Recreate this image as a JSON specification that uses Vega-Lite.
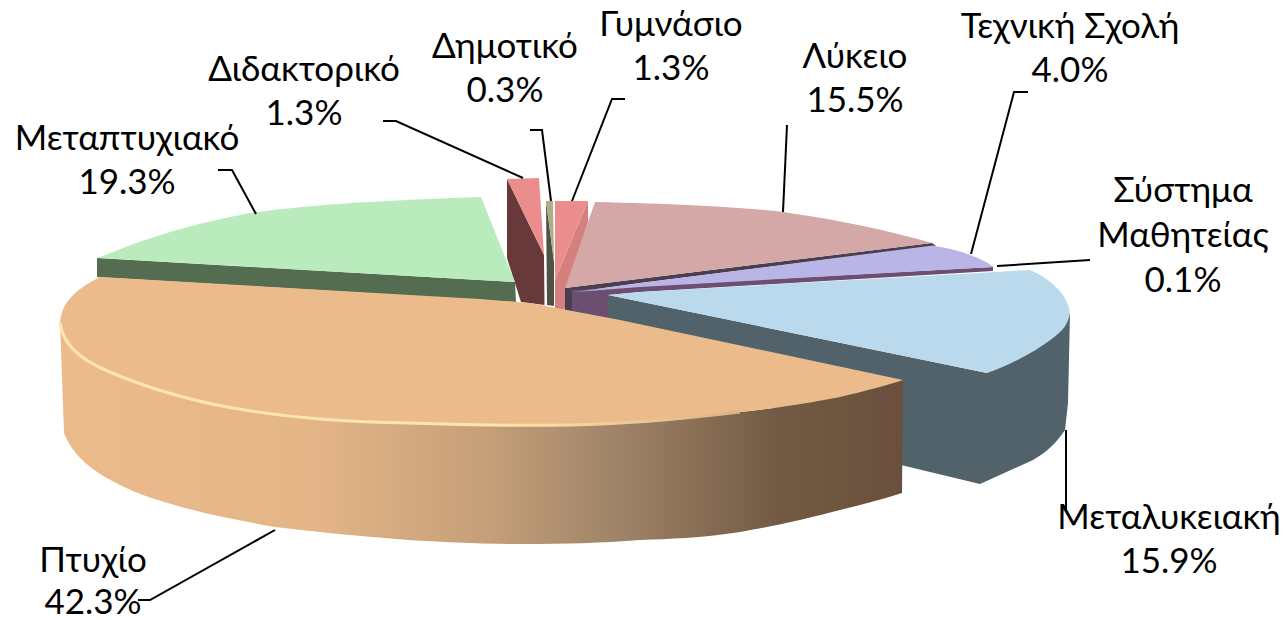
{
"$schema":"https://vega.github.io/schema/vega-lite/v6.json",
"width":1286,"height":620,"autosize":{"type":"fit","contains":"padding"},"padding":0,
"background":"white","view":{"stroke":null},
"data":{"values":[
{"part":"Δημοτικό","share":0.3,"label":"Δημοτικό\n0.3%"},
{"part":"Γυμνάσιο","share":1.3,"label":"Γυμνάσιο\n1.3%"},
{"part":"Λύκειο","share":15.5,"label":"Λύκειο\n15.5%"},
{"part":"Τεχνική Σχολή","share":4.0,"label":"Τεχνική Σχολή\n4.0%"},
{"part":"Σύστημα Μαθητείας","share":0.1,"label":"Σύστημα\nΜαθητείας\n0.1%"},
{"part":"Μεταλυκειακή","share":15.9,"label":"Μεταλυκειακή\n15.9%"},
{"part":"Πτυχίο","share":42.3,"label":"Πτυχίο\n42.3%"},
{"part":"Μεταπτυχιακό","share":19.3,"label":"Μεταπτυχιακό\n19.3%"},
{"part":"Διδακτορικό","share":1.3,"label":"Διδακτορικό\n1.3%"}
]},
"encoding":{
"x":{"datum":0,"type":"quantitative","scale":{"domain":[0,1]},"axis":null},
"y":{"datum":0,"type":"quantitative","scale":{"domain":[0,1],"reverse":true},"axis":null}
},
"resolve":{"scale":{"shape":"independent","color":"independent"}},
"layer":[
{"transform":[{"filter":"datum.part!=='Πτυχίο' && datum.part!=='Σύστημα Μαθητείας'"}],
"mark":{"type":"point","filled":true,"opacity":1,"size":4,"strokeWidth":0},
"encoding":{
"shape":{"field":"part","type":"nominal","legend":null,"sort":null,"scale":{
"domain":["Μεταλυκειακή","Τεχνική Σχολή","Λύκειο","Μεταπτυχιακό","Διδακτορικό","Δημοτικό","Γυμνάσιο"],
"range":[
"M608,295 L987,373 L1070,313 L1068,403 L1065,430 C1055,445 1045,453 1033,460 L980,484 L880,460 L608,325 Z",
"M572,290 L993,267 L993,271 L640,292 L608,295 L608,325 L572,316 Z",
"M565,288 L932,243 L936,246 L640,283 L575,292 L572,290 L572,316 L565,316 Z",
"M97,258 L515,282 L516,302 L97,277 Z",
"M507,179 L544,255 L544.5,305 L521,302 L507,258 Z",
"M546,201 L554,262 L554,306 L547,305 Z",
"M588,201 L588,222 L567,287 L565,316 L555,316 L555,280 Z"]}},
"color":{"field":"part","type":"nominal","legend":null,"scale":{
"domain":["Μεταλυκειακή","Τεχνική Σχολή","Λύκειο","Μεταπτυχιακό","Διδακτορικό","Δημοτικό","Γυμνάσιο"],
"range":["#51626B","#6B4E70","#4A3F50","#546C50","#68393B","#4F5442","#D67F7F"]}}
}},
{"transform":[{"filter":"datum.part!=='Πτυχίο' && datum.part!=='Σύστημα Μαθητείας'"}],
"mark":{"type":"point","filled":true,"opacity":1,"size":4,"strokeWidth":0},
"encoding":{
"shape":{"field":"part","type":"nominal","legend":null,"scale":{
"domain":["Μεταλυκειακή","Τεχνική Σχολή","Λύκειο","Μεταπτυχιακό","Διδακτορικό","Δημοτικό","Γυμνάσιο"],
"range":[
"M608,295 L640,292 L1030,270 C1050,279 1067,293 1070,313 C1068,325 1062,331 1053,338 C1035,352 1010,365 987,373 Z",
"M575,292 L640,283 L933,245.5 C945,248 958,250 970,255 C980,259 988,262 993,267 L640,287 Z",
"M565,288 L595,202 C680,204 740,207 783,212 C840,220 890,231 932,243 Z",
"M98,258 C140,240 190,224 250,213 C320,203 400,200 481,197 L515,282 Z",
"M507,179 L539,178 L544,255 Z",
"M546,201 L553,201 L554,262 Z",
"M555,201 L588,201 L555,280 Z"]}},
"color":{"field":"part","type":"nominal","legend":null,"scale":{
"domain":["Μεταλυκειακή","Τεχνική Σχολή","Λύκειο","Μεταπτυχιακό","Διδακτορικό","Δημοτικό","Γυμνάσιο"],
"range":["#BBD9EC","#B9B5E6","#D3A8A6","#BAEBBC","#EC8D8D","#B0AB88","#EC8D8D"]}}
}},
{"transform":[{"filter":"datum.part==='Πτυχίο'"}],
"mark":{"type":"point","filled":true,"opacity":1,"size":4,"strokeWidth":0,
"shape":"M60,322 C63,350 90,365 122,377 C160,392 200,403 245,410 C300,419 350,422 408,423 C470,425 520,426 571,425 C630,424 690,418 740,412 C780,408 820,401 840,397 C865,391 885,386 903,380 L902,493 C880,500 860,505 840,510 C810,518 770,527 740,532 C700,538 670,539 640,540 C600,543 565,544 526,544 C480,544 445,542 408,540 C360,536 315,532 275,527 C230,519 185,510 143,495 C105,480 75,462 64,433 Z",
"fill":{"gradient":"linear","x1":0,"y1":0,"x2":1,"y2":0,"stops":[{"offset":0,"color":"#EBBB8C"},{"offset":0.3,"color":"#E4B587"},{"offset":0.5,"color":"#C6A079"},{"offset":0.65,"color":"#A2866A"},{"offset":0.85,"color":"#735A44"},{"offset":1,"color":"#6A503C"}]}}},
{"transform":[{"filter":"datum.part==='Πτυχίο'"}],
"mark":{"type":"point","filled":true,"opacity":1,"size":4,"strokeWidth":0,"fill":"#EBBB8C",
"shape":"M100,277 C80,287 62,300 60,322 C63,350 90,365 122,377 C160,392 200,403 245,410 C300,419 350,422 408,423 C470,425 520,426 571,425 C630,424 690,418 740,412 C780,408 820,401 840,397 C865,391 885,386 903,380 L620,320 L530,303 L480,299 Z"}},
{"transform":[{"filter":"datum.part==='Πτυχίο'"}],
"mark":{"type":"point","filled":false,"opacity":1,"size":4,"strokeWidth":3,"fill":null,
"shape":"M60,322 C63,350 90,365 122,377 C160,392 200,403 245,410 C300,419 350,422 408,423 C470,425 520,426 571,425 C630,424 690,418 740,412",
"stroke":{"gradient":"linear","x1":0,"y1":0,"x2":1,"y2":0,"stops":[{"offset":0,"color":"#FDE6AE"},{"offset":0.65,"color":"#FDE6AE"},{"offset":1,"color":"#DDB284"}]}}},
{"mark":{"type":"point","filled":false,"opacity":1,"size":4,"strokeWidth":2,"stroke":"#000000"},
"encoding":{"shape":{"field":"part","type":"nominal","legend":null,"scale":{
"domain":["Δημοτικό","Γυμνάσιο","Λύκειο","Τεχνική Σχολή","Σύστημα Μαθητείας","Μεταλυκειακή","Πτυχίο","Μεταπτυχιακό","Διδακτορικό"],
"range":[
"M530,130 L542,130 L551,201",
"M625,99 L612,99 L572,201",
"M787,125 L783,212",
"M1028,92 L1014,92 L971,254",
"M1090,260 L997,266",
"M1066,430 L1066,510",
"M138,600 L150,600 L275,530",
"M218,170 L232,170 L256,214",
"M383,121 L396,121 L523,178"]}}}},
{"transform":[{"filter":"datum.part==='Δημοτικό'"}],"mark":{"type":"text","dx":505,"dy":58,"align":"center","baseline":"alphabetic","font":"Lato","fontSize":35,"lineHeight":44,"lineBreak":"\n","color":"#000000"},"encoding":{"text":{"field":"label"}}},
{"transform":[{"filter":"datum.part==='Γυμνάσιο'"}],"mark":{"type":"text","dx":671,"dy":36,"align":"center","baseline":"alphabetic","font":"Lato","fontSize":35,"lineHeight":44,"lineBreak":"\n","color":"#000000"},"encoding":{"text":{"field":"label"}}},
{"transform":[{"filter":"datum.part==='Λύκειο'"}],"mark":{"type":"text","dx":855,"dy":68,"align":"center","baseline":"alphabetic","font":"Lato","fontSize":35,"lineHeight":44,"lineBreak":"\n","color":"#000000"},"encoding":{"text":{"field":"label"}}},
{"transform":[{"filter":"datum.part==='Τεχνική Σχολή'"}],"mark":{"type":"text","dx":1070,"dy":38,"align":"center","baseline":"alphabetic","font":"Lato","fontSize":35,"lineHeight":44,"lineBreak":"\n","color":"#000000"},"encoding":{"text":{"field":"label"}}},
{"transform":[{"filter":"datum.part==='Σύστημα Μαθητείας'"}],"mark":{"type":"text","dx":1183,"dy":202,"align":"center","baseline":"alphabetic","font":"Lato","fontSize":35,"lineHeight":45,"lineBreak":"\n","color":"#000000"},"encoding":{"text":{"field":"label"}}},
{"transform":[{"filter":"datum.part==='Μεταλυκειακή'"}],"mark":{"type":"text","dx":1169,"dy":529,"align":"center","baseline":"alphabetic","font":"Lato","fontSize":35,"lineHeight":44,"lineBreak":"\n","color":"#000000"},"encoding":{"text":{"field":"label"}}},
{"transform":[{"filter":"datum.part==='Πτυχίο'"}],"mark":{"type":"text","dx":93,"dy":572,"align":"center","baseline":"alphabetic","font":"Lato","fontSize":35,"lineHeight":42,"lineBreak":"\n","color":"#000000"},"encoding":{"text":{"field":"label"}}},
{"transform":[{"filter":"datum.part==='Μεταπτυχιακό'"}],"mark":{"type":"text","dx":127,"dy":150,"align":"center","baseline":"alphabetic","font":"Lato","fontSize":35,"lineHeight":44,"lineBreak":"\n","color":"#000000"},"encoding":{"text":{"field":"label"}}},
{"transform":[{"filter":"datum.part==='Διδακτορικό'"}],"mark":{"type":"text","dx":304,"dy":81,"align":"center","baseline":"alphabetic","font":"Lato","fontSize":35,"lineHeight":44,"lineBreak":"\n","color":"#000000"},"encoding":{"text":{"field":"label"}}}
]}
